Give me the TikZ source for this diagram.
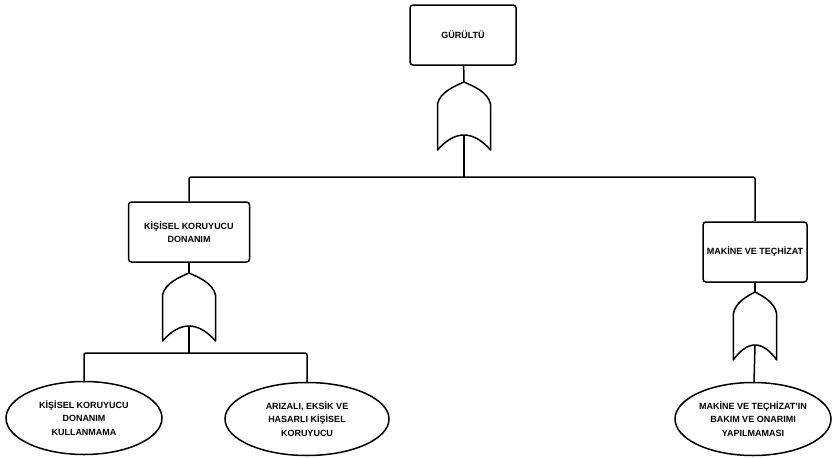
\documentclass[tikz,border=0pt]{standalone}
\usepackage{fontspec}
\setmainfont{Liberation Sans}
\usetikzlibrary{shapes.geometric, positioning}

\tikzset{
  orgate/.pic={
    \draw[line join=round] (0,0) .. controls (9,4) and (24,10) .. (26.5,22) -- (26.5,68)
      .. controls (9,48) and (-9,48) .. (-26.5,68) -- (-26.5,22)
      .. controls (-24,10) and (-9,4) .. cycle;
    \coordinate (-top) at (0,0);
    \coordinate (-out) at (0,53);
  }
}

\begin{document}
\begin{tikzpicture}[x=1pt, y=-1pt, line width=1.5pt]

  % styles
  \tikzstyle{event} = [rectangle, rounded corners=3pt, minimum height=60pt, inner sep=1pt, text centered, align=center, draw=black, font=\fontsize{9}{13.5}\selectfont\bfseries]
  \tikzstyle{basic} = [ellipse, minimum width=156pt, minimum height=73pt, inner sep=0pt, text centered, align=center, draw=black, font=\fontsize{9}{13.5}\selectfont\bfseries]
  \tikzstyle{line} = [rounded corners=2pt]

  \useasboundingbox (0,0) rectangle (832,458);

  % top event
  \node (gurultu) [event, minimum width=106pt] at (463,35) {GÜRÜLTÜ};
  \pic (g0) at (464,82) {orgate};
  \coordinate (bus) at (464,177);

  % left branch
  \node (kkd) [event, minimum width=121pt] at (189,232) {KİŞİSEL KORUYUCU\\DONANIM};
  \pic (g1) at (189,273) {orgate};
  \coordinate (kbus) at (189,353);
  \node (kullan) [basic] at (84,418) {KİŞİSEL KORUYUCU\\DONANIM\\KULLANMAMA};
  \node (arizali) [basic, minimum width=164pt] at (307,419) {ARIZALI, EKSİK VE\\HASARLI KİŞİSEL\\KORUYUCU};

  % right branch
  \node (makine) [event, minimum width=104pt] at (755,252) {MAKİNE VE TEÇHİZAT};
  \pic[xscale=0.82] (g2) at (755,292) {orgate};
  \node (bakim) [basic] at (753,419) {MAKİNE VE TEÇHİZAT'IN\\BAKIM VE ONARIMI\\YAPILMAMASI};

  % lines
  \draw (gurultu) -- (g0-top);
  \draw (g0-out) -- (bus);
  \draw [line] (bus) -| (kkd);
  \draw [line] (bus) -| (makine);

  \draw (kkd) -- (g1-top);
  \draw (g1-out) -- (kbus);
  \draw [line] (kbus) -| (kullan);
  \draw [line] (kbus) -| (arizali);

  \draw (makine) -- (g2-top);
  \draw (g2-out) -- (bakim);

\end{tikzpicture}
\end{document}
